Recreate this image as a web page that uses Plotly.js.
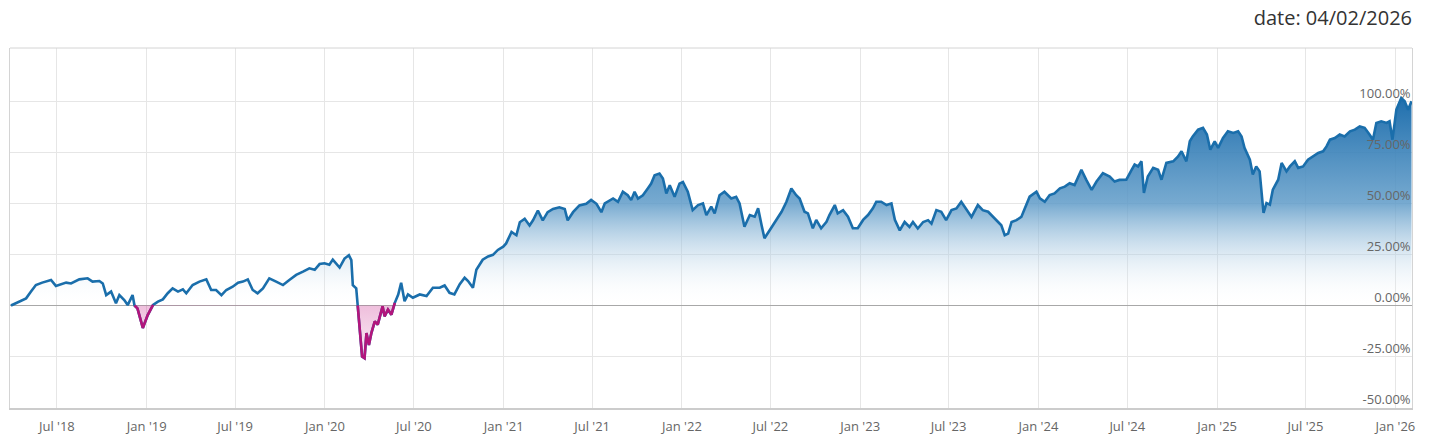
<!DOCTYPE html>
<html>
<head>
<meta charset="utf-8">
<script src="https://cdn.plot.ly/plotly-3.0.1.min.js"></script>
<style>
  html, body { margin: 0; padding: 0; background: #ffffff; }
  #chart { width: 1447px; height: 447px; }
</style>
</head>
<body>
<div id="chart"></div>
<script>
const chartTitle = 'date: 04/02/2026';

const dates = [
  '2018-03-29','2018-04-15','2018-04-29','2018-05-09','2018-05-19','2018-06-01','2018-06-19','2018-06-29',
  '2018-07-10','2018-07-20','2018-07-30','2018-08-16','2018-09-02','2018-09-12','2018-09-26','2018-10-03',
  '2018-10-10','2018-10-20','2018-10-30','2018-11-06','2018-11-16','2018-11-23','2018-12-03','2018-12-07',
  '2018-12-13','2018-12-24',
  '2019-01-03','2019-01-14','2019-01-24','2019-02-03','2019-02-13','2019-02-23','2019-03-06','2019-03-16',
  '2019-03-23','2019-04-05','2019-04-19','2019-05-03','2019-05-13','2019-05-23','2019-06-03','2019-06-13',
  '2019-06-26','2019-07-07','2019-07-17','2019-07-27','2019-08-06','2019-08-16','2019-08-27','2019-09-09',
  '2019-09-23','2019-10-07','2019-10-20','2019-11-03','2019-11-17','2019-11-30','2019-12-11','2019-12-21',
  '2019-12-31',
  '2020-01-10','2020-01-17','2020-01-31','2020-02-10','2020-02-19','2020-02-24','2020-02-27','2020-03-05',
  '2020-03-08','2020-03-12','2020-03-15','2020-03-17','2020-03-22','2020-03-26','2020-03-31','2020-04-05',
  '2020-04-12','2020-04-18','2020-04-28','2020-05-02','2020-05-09','2020-05-16','2020-05-23','2020-05-30',
  '2020-06-05','2020-06-12','2020-06-19','2020-06-29','2020-07-13','2020-07-27','2020-08-09','2020-08-23',
  '2020-09-02','2020-09-12','2020-09-22','2020-10-03','2020-10-13','2020-10-20','2020-10-30','2020-11-06',
  '2020-11-19','2020-11-30','2020-12-10','2020-12-20','2020-12-31',
  '2021-01-06','2021-01-17','2021-01-27','2021-02-03','2021-02-13','2021-02-23','2021-03-02','2021-03-12',
  '2021-03-22','2021-04-01','2021-04-12','2021-04-25','2021-05-06','2021-05-12','2021-05-23','2021-06-05',
  '2021-06-19','2021-06-29','2021-07-10','2021-07-20','2021-07-27','2021-08-13','2021-08-23','2021-09-02',
  '2021-09-12','2021-09-19','2021-09-26','2021-10-03','2021-10-13','2021-10-23','2021-10-30','2021-11-06',
  '2021-11-16','2021-11-23','2021-11-30','2021-12-07','2021-12-17','2021-12-27',
  '2022-01-03','2022-01-13','2022-01-23','2022-02-03','2022-02-13','2022-02-20','2022-03-02','2022-03-09',
  '2022-03-19','2022-03-29','2022-04-12','2022-04-22','2022-04-29','2022-05-09','2022-05-20','2022-05-30',
  '2022-06-06','2022-06-13','2022-06-19','2022-06-30','2022-07-10','2022-07-24','2022-08-03','2022-08-13',
  '2022-08-23','2022-08-30','2022-09-09','2022-09-16','2022-09-26','2022-10-03','2022-10-13','2022-10-24',
  '2022-10-30','2022-11-10','2022-11-16','2022-11-27','2022-12-07','2022-12-17','2022-12-27',
  '2023-01-07','2023-01-17','2023-01-27','2023-02-03','2023-02-13','2023-02-24','2023-03-06','2023-03-13',
  '2023-03-23','2023-04-02','2023-04-12','2023-04-19','2023-04-29','2023-05-10','2023-05-20','2023-05-27',
  '2023-06-06','2023-06-16','2023-06-26','2023-07-07','2023-07-17','2023-07-27','2023-08-06','2023-08-17',
  '2023-08-30','2023-09-09','2023-09-20','2023-09-30','2023-10-10','2023-10-17','2023-10-24','2023-10-31',
  '2023-11-07','2023-11-17','2023-11-27','2023-12-04','2023-12-14','2023-12-28',
  '2024-01-04','2024-01-14','2024-01-24','2024-02-03','2024-02-14','2024-02-24','2024-03-05','2024-03-15',
  '2024-03-29','2024-04-08','2024-04-19','2024-04-29','2024-05-12','2024-05-26','2024-06-05','2024-06-15',
  '2024-06-29','2024-07-09','2024-07-16','2024-07-23','2024-07-30','2024-08-04','2024-08-12','2024-08-23',
  '2024-09-02','2024-09-09','2024-09-19','2024-10-03','2024-10-13','2024-10-20','2024-10-30','2024-11-06',
  '2024-11-12','2024-11-23','2024-12-03','2024-12-11','2024-12-18','2024-12-27',
  '2025-01-03','2025-01-13','2025-01-23','2025-02-03','2025-02-13','2025-02-20','2025-02-26','2025-03-09',
  '2025-03-15','2025-03-22','2025-03-29','2025-04-04','2025-04-06','2025-04-12','2025-04-19','2025-04-25',
  '2025-05-06','2025-05-13','2025-05-23','2025-05-30','2025-06-09','2025-06-16','2025-06-26','2025-07-06',
  '2025-07-16','2025-07-27','2025-08-06','2025-08-13','2025-08-20','2025-08-30','2025-09-09','2025-09-19',
  '2025-09-30','2025-10-10','2025-10-20','2025-10-30','2025-11-09','2025-11-16','2025-11-23','2025-12-03',
  '2025-12-14','2025-12-20','2025-12-26','2025-12-31',
  '2026-01-03','2026-01-13','2026-01-20','2026-01-27','2026-02-03'
];

const returns = [
  0, 1.9, 3.5, 6.8, 10, 11.2, 12.5, 9.6,
  10.5, 11.2, 10.8, 12.8, 13.3, 11.7, 12, 10.8,
  5.1, 6.8, 1.1, 5.1, 2.7, 0.2, 5.1, 0,
  -1.4, -11,
  -4.7, 0.3, 1.9, 3, 6, 8.4, 6.8, 7.9,
  6, 10, 11.7, 12.8, 7.6, 7.6, 5.1, 7.6,
  9.2, 11.2, 11.7, 12.8, 7.6, 6, 8.4, 13.3,
  11.7, 10, 12.5, 15, 16.6, 18.2, 17.5, 20.3,
  20.7,
  20, 22.5, 18.6, 23, 24.6, 22.2, 10, 8.4,
  0, -12, -18.5, -25, -25.8, -13.5, -19.3, -13.5,
  -7.8, -9.4, -0.4, -5.3, -2, -4.5, 1.3, 5.4,
  11.1, 2.1, 5.4, 3.8, 5.4, 4.6, 8.7, 8.7,
  9.8, 6.2, 5.4, 10.4, 13.6, 12, 8.7, 17.5,
  22.4, 24, 24.8, 27.2, 28.8,
  30.4, 36, 34.4, 40.8, 42.5, 39.2, 41.7, 46.5,
  41.7, 45.7, 47.3, 48.1, 47.3, 41.7, 45.7, 49,
  49.8, 51.7, 49.8, 45.7, 50, 52.4, 50.8, 55.7,
  54, 51.6, 55.7, 52.4, 54, 57.3, 59.7, 63.8,
  64.6, 62.2, 54.9, 58.9, 53.2, 59.7,
  60.5, 55.7, 46.7, 49.2, 50, 44.3, 48.4, 45.1,
  54, 55.7, 52.4, 53.2, 50, 38.6, 44.3, 43.5,
  47.6, 39.4, 32.9, 37, 41, 45.9, 50.8, 57.3,
  54, 52.4, 45.9, 45.1, 37.8, 41.9, 37.8, 41,
  44.3, 49.2, 45.1, 46.7, 43.5, 37.8, 37.8,
  41.9, 44.3, 47.6, 50.8, 50.8, 49.2, 50, 42,
  36.8, 40.9, 38.5, 40.9, 37.7, 40.9, 41.8, 40.1,
  46.7, 45.9, 41.8, 46.7, 47.5, 50.8, 47.5, 43.4,
  49.2, 46.7, 45.9, 43.4, 40.9, 39.3, 34.4, 35.2,
  40.9, 41.8, 43.4, 47.5, 53.3, 55.7,
  52.5, 50.8, 54.1, 54.9, 57.4, 58.2, 59.9, 59,
  66.4, 61.5, 56.6, 60.7, 64.8, 63.1, 60.7, 61.5,
  61.6, 66, 69, 68.1, 70.6, 55.1, 63.2, 67.4,
  66.5, 61.6, 69.8, 70.6, 73, 75.5, 70.6, 80.4,
  82.8, 86.1, 87, 83.7, 76.3, 80.4,
  77.2, 82.1, 85.3, 84.5, 85.3, 82.8, 77.2, 71.4,
  64.1, 68.1, 65.7, 50.2, 45.3, 50.2, 49.4, 56.7,
  61.6, 69.8, 65.7, 68.1, 70.6, 67.4, 68.1, 71.4,
  73, 74.7, 75.5, 77.9, 81.2, 82, 83.7, 82.8,
  85.3, 86.1, 87.7, 87, 83.7, 81.2, 89.4, 90.2,
  89.4, 90.2, 81.2, 90.2,
  95.9, 101.6, 100, 95.9, 100
];

const xTickVals = ['2018-07-01','2019-01-01','2019-07-01','2020-01-01','2020-07-01','2021-01-01',
  '2021-07-01','2022-01-01','2022-07-01','2023-01-01','2023-07-01','2024-01-01','2024-07-01',
  '2025-01-01','2025-07-01','2026-01-01'];
const xTickText = ["Jul '18","Jan '19","Jul '19","Jan '20","Jul '20","Jan '21","Jul '21","Jan '22",
  "Jul '22","Jan '23","Jul '23","Jan '24","Jul '24","Jan '25","Jul '25","Jan '26"];
const yTickVals = [-50, -25, 0, 25, 50, 75, 100];
const yTickText = ['-50.00%', '-25.00%', '0.00%', '25.00%', '50.00%', '75.00%', '100.00%'];
const xRange = ['2018-03-27', '2026-02-04'];

// negative segments (including their bounding points) drawn in magenta
const negReturns = returns.map((v, i) =>
  (v < 0 || returns[i - 1] < 0 || returns[i + 1] < 0) ? v : null);

const posTrace = {
  x: dates, y: returns, type: 'scatter', mode: 'lines',
  line: { color: '#1a6eab', width: 2.6 },
  fill: 'tozeroy',
  fillgradient: {
    type: 'vertical', start: 0, stop: 100,
    colorscale: [[0, 'rgba(255,255,255,0)'], [0.5, 'rgba(95,155,200,0.85)'], [1, 'rgba(22,105,170,0.95)']]
  },
  hoverinfo: 'skip', showlegend: false
};

const negTrace = {
  x: dates, y: negReturns, type: 'scatter', mode: 'lines',
  line: { color: '#b3157c', width: 2.6 },
  connectgaps: false,
  fill: 'tozeroy',
  fillgradient: {
    type: 'vertical', start: -26, stop: 0,
    colorscale: [[0, 'rgba(200,40,140,0.08)'], [1, 'rgba(200,40,140,0.3)']]
  },
  hoverinfo: 'skip', showlegend: false
};

const layout = {
  width: 1447, height: 447,
  margin: { l: 10, r: 35, t: 48, b: 39 },
  paper_bgcolor: '#ffffff', plot_bgcolor: '#ffffff',
  font: { family: 'Open Sans, sans-serif', color: '#666666', size: 13 },
  title: {
    text: chartTitle,
    xref: 'paper', x: 1, xanchor: 'right',
    yref: 'container', y: 0.96, yanchor: 'middle',
    font: { family: 'Open Sans, sans-serif', size: 20, color: '#333333' }
  },
  xaxis: {
    type: 'date', range: xRange,
    tickmode: 'array', tickvals: xTickVals, ticktext: xTickText,
    showgrid: true, gridcolor: '#e6e6e6', gridwidth: 1,
    showline: true, linecolor: '#cccccc', linewidth: 2,
    ticks: '', ticklabelstandoff: 5, ticklabeloverflow: 'allow',
    tickfont: { size: 13, color: '#666666' },
    zeroline: false, fixedrange: true
  },
  yaxis: {
    range: [-50.2, 126.1], side: 'right',
    tickmode: 'array', tickvals: yTickVals, ticktext: yTickText,
    ticklabelposition: 'inside', ticklabelshift: -8, ticklabelstandoff: 1,
    ticklabeloverflow: 'allow',
    tickfont: { size: 13, color: '#666666' },
    showgrid: true, gridcolor: '#e6e6e6', gridwidth: 1,
    zeroline: true, zerolinecolor: '#a8a8a8', zerolinewidth: 1,
    showline: true, mirror: true, linecolor: '#d4d4d4', linewidth: 1,
    ticks: '', fixedrange: true
  },
  shapes: [
    { type: 'line', xref: 'paper', yref: 'paper', x0: 0, x1: 1, y0: 1, y1: 1,
      line: { color: '#d4d4d4', width: 1 } }
  ]
};

Plotly.newPlot('chart', [posTrace, negTrace], layout, { displayModeBar: false, staticPlot: true });
</script>
</body>
</html>
